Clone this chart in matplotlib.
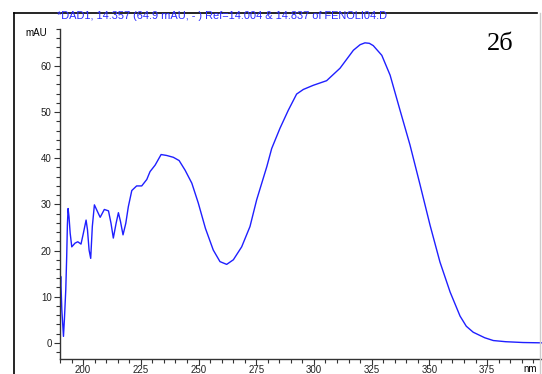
import matplotlib
matplotlib.use("Agg")
import matplotlib.pyplot as plt
from matplotlib.lines import Line2D
from matplotlib.ticker import MultipleLocator

# spectrum (nm, mAU)
wavelength = [
    189.6, 190.0, 190.3, 190.8, 191.5, 191.9, 192.5, 192.9, 193.2, 193.5,
    193.9, 194.4, 195.1, 196.5, 197.7, 199.1, 200.1, 201.3, 201.9, 202.6,
    203.3, 204.0, 204.9, 205.9, 207.4, 209.2, 211.0, 212.1, 213.1, 214.3,
    215.3, 216.2, 217.3, 218.5, 219.6, 221.1, 223.2, 225.4, 227.6, 229.0,
    231.2, 233.8, 236.2, 239.1, 241.6, 244.2, 247.1, 249.9, 253.0, 256.4,
    259.3, 262.2, 265.1, 268.7, 272.3, 275.2, 279.6, 281.7, 285.3, 288.9,
    292.5, 295.4, 299.7, 305.5, 311.3, 317.1, 320.0, 322.1, 324.0, 325.7,
    329.4, 333.0, 337.3, 341.6, 346.0, 350.3, 354.6, 359.0, 363.3, 366.0,
    369.0, 374.0, 377.7, 383.0, 390.6, 398.8,
]
absorbance = [
    16.5, 10.8, 14.4, 7.1, 1.4, 5.0, 11.5, 18.7, 25.5, 29.1,
    27.3, 23.8, 20.8, 21.6, 21.9, 21.4, 23.7, 26.6, 24.5, 20.1,
    18.3, 25.2, 29.9, 28.8, 27.2, 28.9, 28.6, 25.9, 22.7, 25.9,
    28.2, 26.3, 23.4, 25.9, 29.5, 33.0, 34.0, 34.0, 35.4, 37.1,
    38.5, 40.8, 40.6, 40.2, 39.5, 37.4, 34.6, 30.3, 24.8, 20.1,
    17.6, 17.0, 18.0, 20.8, 25.2, 31.0, 38.2, 42.1, 46.5, 50.4,
    53.9, 54.9, 55.8, 56.8, 59.5, 63.4, 64.6, 65.0, 64.9, 64.4,
    62.3, 58.0, 50.4, 42.9, 34.2, 25.5, 17.5, 11.0, 5.8, 3.6,
    2.3, 1.1, 0.5, 0.25, 0.07, 0.0,
]
x_major = [200, 225, 250, 275, 300, 325, 350, 375]
y_major = [0, 10, 20, 30, 40, 50, 60]
header = "*DAD1, 14.357 (64.9 mAU, - ) Ref=14.004 & 14.837 of FENOLI04.D"

plt.rcParams["font.family"] = ["Liberation Sans", "DejaVu Sans"]

fig = plt.figure(figsize=(5.42, 3.74), dpi=100)
ax = fig.add_axes([60 / 542, 1 - 359 / 374, 1 - 60 / 542, (359 - 29) / 374])

ax.plot(wavelength, absorbance, color="#1f1fff", lw=1.0)

ax.set_xlim(190, 398.8)
ax.set_ylim(-3.5, 68)
ax.set_xticks(x_major)
ax.set_yticks(y_major)
ax.xaxis.set_minor_locator(MultipleLocator(5))
ax.yaxis.set_minor_locator(MultipleLocator(2))
ax.tick_params(which="major", length=4, width=0.8, labelsize=7, pad=2, color="#333333",
               labelcolor="#222222")
ax.tick_params(axis="x", which="major", pad=0.3)
ax.tick_params(which="minor", length=3, width=0.8, color="#333333")
ax.spines["top"].set_visible(False)
ax.spines["right"].set_visible(False)
for s in ("left", "bottom"):
    ax.spines[s].set_linewidth(1.0)
    ax.spines[s].set_color("#333333")

ax.text(393.5, -4.5, "nm", transform=ax.transData, fontsize=7, ha="center", va="top",
        clip_on=False)
fig.text(36 / 542, 1 - 33 / 374, "mAU", fontsize=7, ha="center", va="center")
fig.text(57 / 542, 1 - 16 / 374, header, fontsize=7.9, color="#2a2aff", ha="left", va="center")
fig.text(500 / 542, 1 - 44 / 374, "2б", fontsize=19, family="Liberation Serif",
         ha="center", va="center")

# frame around the picture
x0, y0 = 13.5 / 542, 1 - 12.5 / 374
fig.add_artist(Line2D([x0, x0], [-0.05, y0], transform=fig.transFigure, color="black", lw=1.2))
fig.add_artist(Line2D([x0, 537 / 542], [y0, y0], transform=fig.transFigure, color="black", lw=1.2))
fig.add_artist(Line2D([540 / 542, 540 / 542], [-0.05, y0], transform=fig.transFigure,
                      color="#cccccc", lw=1.0))

fig.savefig("out.png", dpi=100)
